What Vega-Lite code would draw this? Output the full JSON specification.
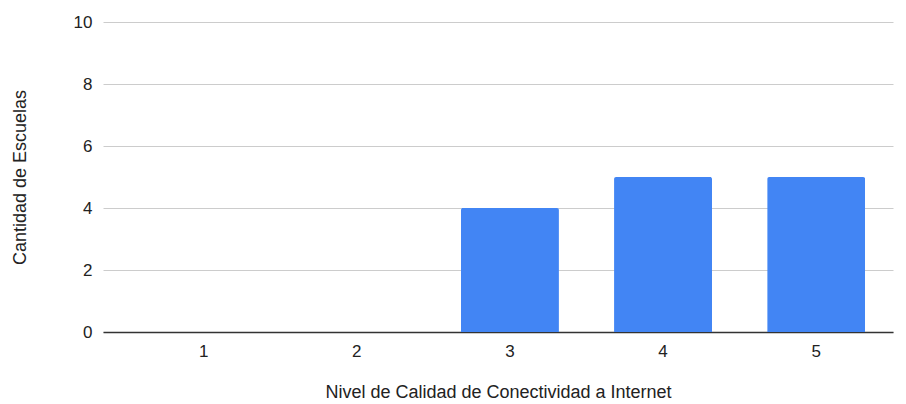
{
  "$schema": "https://vega.github.io/schema/vega-lite/v6.json",
  "autosize": "none",
  "width": 790,
  "height": 310,
  "padding": {"left": 103, "top": 22, "right": 13, "bottom": 72},
  "background": "white",
  "data": {"values": [
    {"nivel": "1", "escuelas": 0},
    {"nivel": "2", "escuelas": 0},
    {"nivel": "3", "escuelas": 4},
    {"nivel": "4", "escuelas": 5},
    {"nivel": "5", "escuelas": 5}
  ]},
  "mark": {"type": "bar", "color": "#4285F4", "cornerRadiusTopLeft": 2, "cornerRadiusTopRight": 2},
  "encoding": {
    "x": {
      "field": "nivel", "type": "ordinal",
      "scale": {"paddingInner": 0.36, "paddingOuter": 0.26, "align": 0.65},
      "axis": {
        "title": "Nivel de Calidad de Conectividad a Internet",
        "labelAngle": 0, "ticks": false,
        "domain": true, "domainColor": "#333333", "domainWidth": 1.5,
        "labelFont": "Liberation Sans", "labelFontSize": 17, "labelColor": "#222222", "labelPadding": 11,
        "titleFont": "Liberation Sans", "titleFontSize": 18, "titleFontWeight": "normal", "titleColor": "#222222", "titlePadding": 24
      }
    },
    "y": {
      "field": "escuelas", "type": "quantitative",
      "scale": {"domain": [0, 10]},
      "axis": {
        "title": "Cantidad de Escuelas",
        "values": [0, 2, 4, 6, 8, 10],
        "ticks": false, "domain": false,
        "grid": true, "gridColor": "#cccccc", "gridWidth": 1,
        "labelFont": "Liberation Sans", "labelFontSize": 17, "labelColor": "#222222", "labelPadding": 11,
        "titleFont": "Liberation Sans", "titleFontSize": 18, "titleFontWeight": "normal", "titleColor": "#222222", "titlePadding": 44
      }
    }
  },
  "config": {"view": {"stroke": null}}
}
